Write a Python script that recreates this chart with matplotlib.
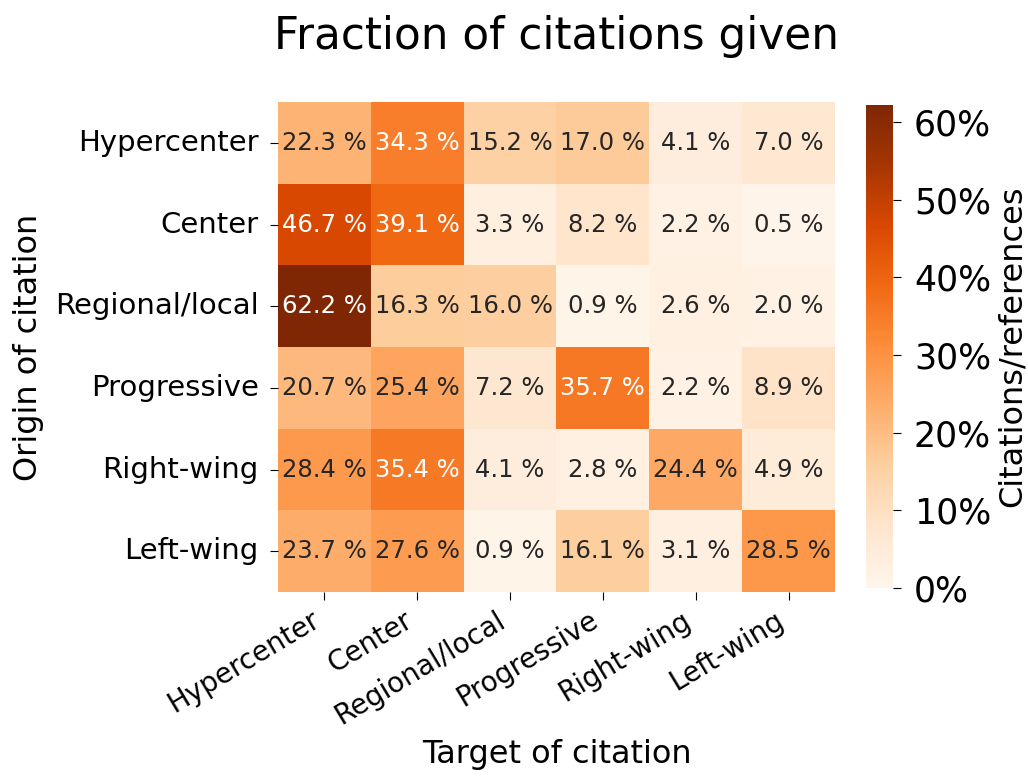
import matplotlib
matplotlib.use("Agg")
import matplotlib.pyplot as plt
import matplotlib.ticker as mticker
import numpy as np
import seaborn as sns

# rows = origin of citation, columns = target of citation (percent)
groups = ["Hypercenter", "Center", "Regional/local", "Progressive", "Right-wing", "Left-wing"]
hypercenter = [22.3, 34.3, 15.2, 17.0, 4.1, 7.0]
center = [46.7, 39.1, 3.3, 8.2, 2.2, 0.5]
regional = [62.2, 16.3, 16.0, 0.9, 2.6, 2.0]
progressive = [20.7, 25.4, 7.2, 35.7, 2.2, 8.9]
right_wing = [28.4, 35.4, 4.1, 2.8, 24.4, 4.9]
left_wing = [23.7, 27.6, 0.9, 16.1, 3.1, 28.5]
cbar_ticks = [0, 10, 20, 30, 40, 50, 60]

vals = np.array([hypercenter, center, regional, progressive, right_wing, left_wing])
labels = np.array([["%.1f %%" % v for v in row] for row in vals])

fig = plt.figure(figsize=(10.28, 7.76), dpi=100)
ax = fig.add_axes([0.2704, 0.2371, 0.5418, 0.6314])
cax = fig.add_axes([0.8424, 0.2423, 0.0263, 0.6224])

sns.heatmap(vals, ax=ax, cbar_ax=cax, cmap="Oranges", vmin=0, vmax=vals.max(),
            annot=labels, fmt="", annot_kws={"fontsize": 17.5},
            xticklabels=groups, yticklabels=groups)

ax.tick_params(axis="both", length=6)
ax.tick_params(axis="x", labelsize=20, pad=4)
ax.tick_params(axis="y", labelsize=21, pad=8)
plt.setp(ax.get_xticklabels(), rotation=31, ha="right")
plt.setp(ax.get_yticklabels(), rotation=0)
ax.set_xlabel("Target of citation", fontsize=23, labelpad=7)
ax.set_ylabel("Origin of citation", fontsize=23, labelpad=8)

cax.yaxis.set_major_locator(mticker.FixedLocator(cbar_ticks))
cax.yaxis.set_major_formatter(mticker.FuncFormatter(lambda v, p: "%d%%" % v))
cax.tick_params(labelsize=25, length=6, pad=9)
cax.set_ylabel("Citations/references", fontsize=23, labelpad=4)

fig.text(0.541, 0.953, "Fraction of citations given", fontsize=31.5, ha="center", va="center")

fig.savefig("out.png", dpi=100)
